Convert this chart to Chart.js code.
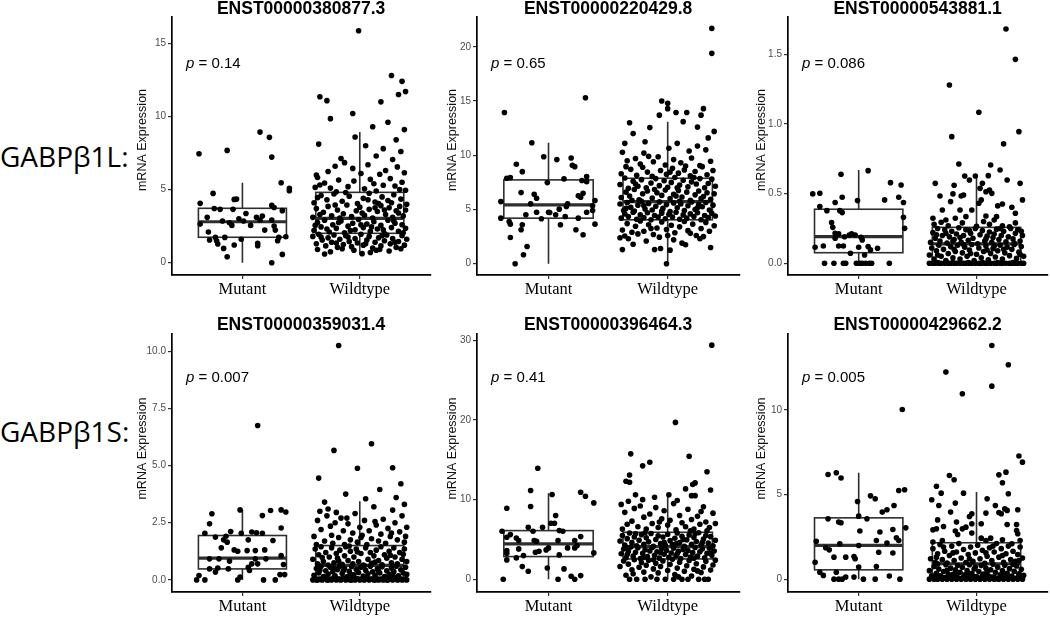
<!DOCTYPE html>
<html><head><meta charset="utf-8">
<script src="https://cdn.jsdelivr.net/npm/chart.js@4.4.1/dist/chart.umd.min.js"></script>
<style>
html,body{margin:0;padding:0;background:#fff}
body{width:1050px;height:617px;overflow:hidden;position:relative}
canvas{position:absolute}
.grp{position:absolute;left:0;font-family:"Open Sans",sans-serif;font-size:28px;line-height:28px;color:#000;white-space:nowrap}
</style></head>
<body>
<div class="grp" id="g0" style="top:142px"></div>
<div class="grp" id="g1" style="top:417px"></div>
<script>
// ---------- data ----------
const categories = ['Mutant', 'Wildtype'];
const rowLabels = ['GABPβ1L:', 'GABPβ1S:'];
const titles = ['ENST00000380877.3','ENST00000220429.8','ENST00000543881.1','ENST00000359031.4','ENST00000396464.3','ENST00000429662.2'];
const pValues = ['0.14','0.65','0.086','0.007','0.41','0.005'];
const yTitle = 'mRNA Expression';

const yTicks1 = [0,5,10,15];          const yLabels1 = ['0','5','10','15'];
const yTicks2 = [0,5,10,15,20];       const yLabels2 = ['0','5','10','15','20'];
const yTicks3 = [0,0.5,1,1.5];        const yLabels3 = ['0.0','0.5','1.0','1.5'];
const yTicks4 = [0,2.5,5,7.5,10];     const yLabels4 = ['0.0','2.5','5.0','7.5','10.0'];
const yTicks5 = [0,10,20,30];         const yLabels5 = ['0','10','20','30'];
const yTicks6 = [0,5,10];             const yLabels6 = ['0','5','10'];

const yRange1 = [-0.84, 16.8];
const yRange2 = [-1.04, 22.75];
const yRange3 = [-0.084, 1.768];
const yRange4 = [-0.53, 10.75];
const yRange5 = [-1.6, 30.8];
const yRange6 = [-0.76, 14.48];

// box stats: [lower whisker, Q1, median, Q3, upper whisker]
const box1Mut = [0, 1.74, 2.80, 3.72, 5.47];   const box1Wt = [0.55, 2.01, 3.03, 4.81, 8.93];
const box2Mut = [0, 4.2, 5.43, 7.73, 11.16];   const box2Wt = [0, 4.05, 5.73, 7.88, 13.1];
const box3Mut = [0, 0.076, 0.191, 0.388, 0.67];const box3Wt = [0, 0.005, 0.139, 0.258, 0.634];
const box4Mut = [0, 0.48, 0.95, 1.94, 3.08];   const box4Wt = [0, 0.12, 0.63, 1.5, 3.44];
const box5Mut = [0, 2.85, 4.44, 6.11, 10.8];   const box5Wt = [0, 2.55, 4.1, 5.9, 10.8];
const box6Mut = [0, 0.55, 1.99, 3.62, 6.28];   const box6Wt = [0, 0.12, 0.91, 2.15, 5.14];

// jittered points: [offset from category, value]
const pts1Mut = [[-0.37,7.45],[-0.13,7.68],[0.15,8.93],[0.23,8.57],[0.25,7.22],[0.33,5.47],[0.4,5.08],[0.4,4.92],[-0.25,4.74],[-0.36,4.06],[-0.07,4.33],[-0.05,4.35],[-0.24,3.71],[-0.19,3.65],[-0.08,3.65],[0.03,3.37],[0.12,3.1],[0.17,3.19],[0.25,3.92],[0.27,3.78],[0.34,3.56],[-0.3,3.1],[-0.36,2.64],[-0.17,2.85],[-0.11,2.73],[-0.09,2.55],[-0.03,3.01],[0.01,2.85],[0.07,2.55],[0.15,2.92],[0.25,2.92],[0.27,2.51],[0.28,2.23],[0.19,2.23],[-0.29,2.1],[-0.23,1.73],[-0.28,1.55],[-0.22,1.5],[-0.15,1.73],[-0.01,1.6],[0.13,1.32],[0.13,1.16],[0.31,1.73],[0.37,1.78],[0.3,1.5],[-0.21,1.28],[-0.16,0.98],[-0.07,1.21],[-0.13,0.41],[0.25,0],[0.34,0.57]];
const pts1Wt = [[-0.01,15.86],[0.27,12.8],[0.36,12.4],[0.39,11.7],[0.33,11.5],[-0.34,11.35],[-0.28,11.08],[0.18,11.0],[-0.06,10.2],[-0.25,9.85],[0.24,9.6],[0.11,9.3],[0.38,9.1],[-0.04,8.6],[0.31,8.4],[-0.35,8.11],[0.05,8.0],[0.2,7.8],[0.35,7.6],[-0.16,7.13],[0.14,7.3],[0.28,7.05],
[-0.13,6.84],[-0.21,6.6],[0.07,6.7],[0.32,6.55],[-0.06,6.45],[0.22,6.3],[-0.27,6.24],[0.38,6.15],[0.01,6.1],[-0.37,6.0],[0.17,6.05],
[-0.36,5.83],[-0.18,5.65],[-0.05,5.58],[0.09,5.7],[0.26,5.75],[0.36,5.5],[-0.34,5.31],[0.12,5.4],[-0.1,5.2],[0.3,5.25],[-0.25,5.1],[0.04,5.05],[0.2,5.3],[-0.38,5.15],[0.34,5.0],[-0.3,5.45],[0.14,4.9],[-0.2,4.85],[0.39,4.95],
[-0.39,4.1],[-0.33,4.6],[-0.28,4.3],[-0.22,4.7],[-0.15,4.2],[-0.09,4.55],[-0.02,4.05],[0.03,4.4],[0.08,4.75],[0.13,4.15],[0.19,4.5],[0.24,4.25],[0.29,4.65],[0.35,4.35],[0.4,4.0],[-0.12,4.8],[0.16,4.05],[-0.36,4.45],[0.27,4.1],[0.07,4.3],
[-0.4,3.1],[-0.37,3.7],[-0.31,3.45],[-0.27,3.85],[-0.24,3.2],[-0.19,3.6],[-0.14,3.35],[-0.11,3.95],[-0.07,3.15],[-0.03,3.55],[0.0,3.8],[0.04,3.25],[0.08,3.65],[0.11,3.05],[0.15,3.5],[0.18,3.9],[0.22,3.3],[0.25,3.75],[0.28,3.1],[0.31,3.55],[0.34,3.85],[0.37,3.2],[0.39,3.6],[-0.34,3.3],[-0.21,3.95],[-0.17,3.05],[0.02,3.4],[0.13,3.75],[0.21,3.6],[0.33,3.4],
[-0.39,2.2],[-0.36,2.75],[-0.33,2.45],[-0.3,2.9],[-0.26,2.1],[-0.23,2.6],[-0.2,2.35],[-0.16,2.85],[-0.13,2.05],[-0.1,2.5],[-0.06,2.7],[-0.04,2.25],[-0.01,2.95],[0.03,2.4],[0.06,2.65],[0.09,2.15],[0.12,2.8],[0.15,2.3],[0.18,2.55],[0.21,2.0],[0.24,2.9],[0.27,2.4],[0.3,2.7],[0.33,2.15],[0.36,2.6],[0.39,2.35],[-0.38,2.55],[-0.28,2.3],[-0.18,2.75],[-0.08,2.2],[0.01,2.6],[0.1,2.45],[0.2,2.25],[0.29,2.85],[0.37,2.05],
[-0.4,1.8],[-0.37,1.3],[-0.35,1.95],[-0.32,1.55],[-0.29,1.15],[-0.27,1.7],[-0.24,1.4],[-0.22,1.9],[-0.19,1.05],[-0.17,1.6],[-0.14,1.25],[-0.12,1.85],[-0.09,1.45],[-0.07,1.1],[-0.04,1.65],[-0.02,1.35],[0.01,1.95],[0.03,1.2],[0.06,1.55],[0.08,1.8],[0.11,1.0],[0.13,1.4],[0.16,1.7],[0.18,1.15],[0.21,1.5],[0.23,1.9],[0.26,1.3],[0.28,1.65],[0.31,1.05],[0.33,1.45],[0.36,1.85],[0.38,1.2],[0.4,1.6],[-0.33,1.75],[-0.2,1.35],[-0.1,1.75],[0.05,1.3],[0.19,1.85],[0.3,1.4],
[-0.36,0.9],[-0.25,0.75],[-0.15,0.95],[-0.05,0.85],[0.09,0.7],[0.17,0.9],[0.25,0.8],[0.35,0.95],[-0.3,0.6],[0.02,0.62],[0.14,0.85]];

const pts2Mut = [[-0.37,13.95],[0.31,15.3],[-0.14,11.16],[-0.04,9.87],[0.07,9.6],[0.19,9.75],[0.2,9.08],[0.22,8.95],[-0.27,9.17],[-0.22,8.49],[-0.35,7.88],[-0.32,7.94],[-0.01,7.48],[0.13,7.82],[0.28,7.67],[0.32,8.03],[0.32,7.57],[-0.23,6.56],[-0.12,6.41],[-0.1,6.04],[0.29,6.5],[0.27,6.13],[0.25,6.26],[-0.15,5.52],[-0.4,5.73],[0.39,5.83],[0.37,5.34],[0.37,4.91],[0.15,5.27],[0.09,5.03],[0.16,5.52],[0.0,4.75],[-0.1,4.75],[-0.19,4.51],[-0.06,4.14],[0.01,4.72],[0.06,4.51],[0.14,4.35],[0.25,4.2],[0.32,4.75],[-0.4,4.2],[-0.33,3.89],[-0.32,3.65],[-0.22,3.59],[-0.23,3.13],[0.1,3.59],[0.23,3.13],[0.39,3.65],[0.29,2.67],[-0.32,2.42],[-0.18,1.59],[-0.21,0.83],[-0.28,0.0]];
const pts2Wt = [[0.37,21.7],[0.37,19.4],[-0.05,15.0],[0,14.8],[0,14.3],[-0.07,13.7],[0.07,13.95],[0.16,13.95],[0.13,13.1],[0.28,13.7],[-0.32,13.0],[-0.15,12.55],[0.25,12.6],[-0.29,12.0],[-0.19,11.25],[-0.36,11.1],[0.01,10.65],[0.08,11.1],[0.18,10.4],[0.25,10.85],[0.32,10.5],[-0.38,10.27],[-0.2,10.2],[-0.08,9.87],[0.34,11.6],[0.39,12.2],[0.3,14.3],
[-0.34,9.5],[-0.27,9.7],[-0.23,9.2],[-0.12,9.4],[-0.02,9.1],[0.05,9.6],[0.11,9.3],[0.2,9.75],[0.27,9.05],[0.36,9.45],[-0.16,9.9],[0.15,9.0],
[-0.39,8.3],[-0.31,8.7],[-0.26,8.15],[-0.21,8.9],[-0.17,8.45],[-0.13,8.05],[-0.06,8.6],[-0.01,8.25],[0.04,8.8],[0.09,8.35],[0.14,8.65],[0.19,8.1],[0.23,8.5],[0.29,8.95],[0.33,8.2],[0.38,8.6],[-0.35,8.95],[0.02,8.45],
[-0.4,7.3],[-0.36,7.9],[-0.33,6.95],[-0.29,7.6],[-0.25,7.15],[-0.22,7.75],[-0.18,7.0],[-0.14,7.45],[-0.1,7.85],[-0.07,7.2],[-0.03,7.65],[0.0,7.05],[0.03,7.5],[0.06,7.95],[0.1,7.25],[0.13,7.7],[0.17,7.1],[0.2,7.55],[0.24,7.35],[0.27,7.85],[0.31,7.0],[0.34,7.4],[0.37,7.8],[0.4,7.15],[-0.27,7.35],[0.08,7.0],[0.22,7.95],
[-0.39,6.1],[-0.35,6.6],[-0.32,6.25],[-0.28,6.85],[-0.24,5.9],[-0.21,6.45],[-0.17,6.7],[-0.13,6.05],[-0.09,6.55],[-0.05,6.3],[-0.02,6.8],[0.02,6.0],[0.05,6.4],[0.09,6.75],[0.12,6.15],[0.16,6.6],[0.19,5.85],[0.23,6.35],[0.26,6.7],[0.3,6.2],[0.33,6.55],[0.36,5.95],[0.39,6.45],[-0.3,5.85],[-0.11,6.85],[0.07,6.25],[0.28,6.0],
[-0.4,5.5],[-0.37,4.9],[-0.34,5.65],[-0.31,5.2],[-0.28,4.85],[-0.25,5.4],[-0.22,5.75],[-0.19,5.05],[-0.16,5.55],[-0.13,4.95],[-0.1,5.3],[-0.07,5.7],[-0.04,5.1],[-0.01,5.45],[0.02,4.8],[0.05,5.6],[0.08,5.15],[0.11,5.5],[0.14,4.9],[0.17,5.35],[0.2,5.7],[0.23,5.0],[0.26,5.45],[0.29,5.25],[0.32,5.65],[0.35,4.95],[0.38,5.4],[-0.35,5.1],[-0.2,5.35],[-0.05,4.85],[0.1,5.75],[0.25,5.15],
[-0.39,4.2],[-0.36,4.6],[-0.33,4.35],[-0.29,4.75],[-0.26,4.1],[-0.23,4.5],[-0.2,4.25],[-0.17,4.7],[-0.14,4.05],[-0.11,4.45],[-0.08,4.3],[-0.05,4.65],[-0.02,4.15],[0.01,4.55],[0.04,4.3],[0.07,4.75],[0.1,4.1],[0.13,4.5],[0.16,4.2],[0.19,4.6],[0.22,4.35],[0.25,4.7],[0.28,4.05],[0.31,4.45],[0.34,4.25],[0.37,4.65],[0.4,4.4],
[-0.38,3.1],[-0.34,3.7],[-0.3,2.9],[-0.27,3.45],[-0.23,3.95],[-0.2,3.0],[-0.16,3.6],[-0.12,2.7],[-0.09,3.3],[-0.05,3.85],[-0.01,3.15],[0.03,3.55],[0.06,2.85],[0.1,3.4],[0.14,3.9],[0.17,3.05],[0.21,3.65],[0.24,2.6],[0.28,3.25],[0.32,3.8],[0.35,3.0],[0.39,3.5],[-0.36,2.55],[-0.25,2.75],[-0.14,3.25],[0.0,2.6],[0.19,2.8],[0.3,2.5],[-0.4,2.4],[-0.07,2.45],
[-0.38,1.3],[-0.29,1.8],[-0.18,2.1],[-0.06,1.4],[0.05,2.2],[0.15,1.75],[-0.11,1.3],[0.02,1.25],[-0.01,0.0],[0.27,2.3],[0.36,1.5],[0.12,1.9],[-0.33,2.3]];

const pts3Mut = [[-0.15,0.639],[0.08,0.665],[-0.39,0.498],[-0.33,0.503],[0.27,0.579],[0.36,0.562],[0.22,0.455],[0.34,0.474],[0.38,0.436],[-0.01,0.45],[-0.14,0.474],[-0.2,0.436],[-0.33,0.407],[-0.27,0.378],[-0.16,0.378],[-0.14,0.364],[-0.23,0.292],[0.38,0.33],[0.39,0.251],[-0.22,0.258],[-0.2,0.215],[-0.17,0.211],[-0.2,0.18],[-0.12,0.191],[-0.08,0.203],[-0.06,0.211],[-0.03,0.203],[0.02,0.187],[0.03,0.168],[-0.3,0.124],[-0.37,0.115],[-0.17,0.124],[-0.13,0.124],[0.0,0.115],[0.08,0.12],[0.1,0.096],[0.16,0.108],[-0.07,0.072],[0.05,0.06],[-0.29,0],[-0.21,0],[-0.13,0],[-0.11,0],[-0.02,0],[0.01,0],[0.03,0],[0.06,0],[0.09,0],[0.11,0],[0.26,0]];
const pts3Wt = [[0.25,1.682],[0.33,1.464],[-0.23,1.28],[0.02,1.084],[0.36,0.945],[-0.21,0.909],[0.23,0.857],[-0.15,0.713],[0.12,0.706],[0.2,0.67],[-0.35,0.574],[-0.1,0.627],[-0.06,0.598],[-0.01,0.627],[0.05,0.574],[0.1,0.629],[0.26,0.598],[0.37,0.574],[-0.19,0.56],[-0.31,0.483],[-0.2,0.498],[-0.13,0.483],[-0.11,0.49],[0.03,0.538],[0.08,0.514],[0.11,0.526],[0.13,0.502],[0.04,0.455],[0.39,0.455],[-0.22,0.443],[-0.29,0.383],[-0.14,0.383],[-0.04,0.383],[0.02,0.431],[0.18,0.412],[0.22,0.426],[0.3,0.402],[0.33,0.359],[0.17,0.335],[-0.37,0.323],[-0.26,0.311],[-0.18,0.323],[-0.09,0.335],[0.08,0.34],[0.15,0.311],
[-0.36,0.28],[-0.24,0.27],[-0.12,0.29],[0.0,0.265],[0.11,0.28],[0.22,0.27],[0.33,0.29],[-0.3,0.295],[0.06,0.3],[0.28,0.262],
[-0.39,0.15],[-0.37,0.22],[-0.35,0.18],[-0.33,0.25],[-0.31,0.16],[-0.29,0.2],[-0.27,0.24],[-0.25,0.145],[-0.23,0.19],[-0.21,0.23],[-0.19,0.17],[-0.17,0.21],[-0.15,0.255],[-0.13,0.15],[-0.11,0.2],[-0.09,0.24],[-0.07,0.165],[-0.05,0.215],[-0.03,0.18],[-0.01,0.25],[0.01,0.14],[0.03,0.205],[0.05,0.235],[0.07,0.16],[0.09,0.195],[0.11,0.225],[0.13,0.15],[0.15,0.21],[0.17,0.245],[0.19,0.17],[0.21,0.2],[0.23,0.23],[0.25,0.155],[0.27,0.19],[0.29,0.25],[0.31,0.175],[0.33,0.215],[0.35,0.24],[0.37,0.16],[0.39,0.2],[-0.34,0.205],[-0.2,0.16],[-0.06,0.235],[0.08,0.175],[0.2,0.25],[0.32,0.145],[-0.26,0.215],[0.14,0.185],[0.38,0.23],[-0.14,0.185],
[-0.4,0.06],[-0.38,0.11],[-0.36,0.03],[-0.34,0.09],[-0.32,0.13],[-0.3,0.05],[-0.28,0.1],[-0.26,0.02],[-0.24,0.07],[-0.22,0.12],[-0.2,0.04],[-0.18,0.085],[-0.16,0.13],[-0.14,0.03],[-0.12,0.075],[-0.1,0.115],[-0.08,0.05],[-0.06,0.095],[-0.04,0.135],[-0.02,0.02],[0.0,0.065],[0.02,0.11],[0.04,0.04],[0.06,0.085],[0.08,0.125],[0.1,0.025],[0.12,0.07],[0.14,0.105],[0.16,0.045],[0.18,0.09],[0.2,0.13],[0.22,0.03],[0.24,0.075],[0.26,0.115],[0.28,0.055],[0.3,0.1],[0.32,0.135],[0.34,0.035],[0.36,0.08],[0.38,0.12],[0.4,0.05],[-0.33,0.06],[-0.19,0.1],[-0.05,0.07],[0.09,0.095],[0.23,0.1],[0.37,0.065],[-0.11,0.135],[0.15,0.125],
[-0.4,0],[-0.37,0],[-0.35,0],[-0.32,0],[-0.3,0],[-0.27,0],[-0.24,0],[-0.22,0],[-0.19,0],[-0.17,0],[-0.14,0],[-0.11,0],[-0.09,0],[-0.06,0],[-0.04,0],[-0.01,0],[0.02,0],[0.04,0],[0.07,0],[0.09,0],[0.12,0],[0.15,0],[0.17,0],[0.2,0],[0.22,0],[0.25,0],[0.28,0],[0.3,0],[0.33,0],[0.35,0],[0.38,0],[0.4,0],[-0.33,0.005],[-0.2,0.005],[-0.07,0.005],[0.05,0.005],[0.18,0.005],[0.31,0.005]];

const pts4Mut = [[0.13,6.75],[-0.02,3.06],[0.17,2.81],[0.24,3.03],[0.33,3.06],[0.37,2.97],[-0.26,2.89],[-0.28,2.45],[0.33,2.27],[-0.32,2.04],[-0.23,1.87],[-0.14,1.91],[-0.1,2.11],[-0.01,2.04],[0.05,1.75],[0.08,2.09],[0.12,2.06],[0.17,2.04],[0.26,1.72],[-0.16,1.75],[-0.13,1.65],[-0.18,1.4],[-0.07,1.31],[-0.04,1.25],[0.04,1.28],[0.11,1.28],[0.19,1.31],[0.11,0.92],[-0.2,0.92],[-0.28,0.92],[-0.11,0.82],[0.08,0.7],[0.13,0.7],[0.2,0.92],[0.33,1.06],[0.35,0.67],[-0.28,0.48],[-0.21,0.52],[-0.23,0.34],[-0.12,0.48],[0.05,0.55],[0.06,0.41],[0.32,0.23],[0.36,0.23],[-0.37,0.19],[-0.39,0],[-0.32,0],[-0.04,0],[-0.02,0.12],[0.18,0],[0.28,0]];
const pts4Wt = [[-0.18,10.25],[-0.22,5.66],[0.1,5.95],[0.28,4.9],[-0.02,4.88],[-0.35,4.45],[0.35,4.2],[0.17,3.95],[-0.3,3.4],[0.31,3.6],[-0.12,3.75],[0.05,3.55],[0.38,3.3],
[-0.39,1.9],[-0.36,2.6],[-0.34,3.0],[-0.33,2.2],[-0.3,1.7],[-0.28,2.8],[-0.27,3.1],[-0.25,2.35],[-0.23,1.6],[-0.21,2.5],[-0.2,2.95],[-0.18,1.85],[-0.16,2.7],[-0.14,2.15],[-0.13,1.55],[-0.1,2.45],[-0.08,1.75],[-0.06,2.05],[-0.04,2.9],[-0.02,1.65],[0.0,2.3],[0.02,1.95],[0.04,2.6],[0.06,1.55],[0.08,2.15],[0.1,1.8],[0.12,3.2],[0.14,2.4],[0.16,1.7],[0.18,2.0],[0.2,2.65],[0.22,1.6],[0.24,2.25],[0.26,1.9],[0.28,3.05],[0.3,2.5],[0.32,1.75],[0.34,2.1],[0.36,2.8],[0.38,1.65],[0.4,2.3],[-0.37,1.55],[-0.24,1.95],[-0.11,2.7],[0.01,1.85],[0.13,2.55],[0.27,2.05],[0.39,1.9],
[-0.4,0.9],[-0.38,1.35],[-0.36,0.7],[-0.35,1.1],[-0.33,1.45],[-0.31,0.8],[-0.29,1.2],[-0.27,0.65],[-0.26,1.0],[-0.24,1.4],[-0.22,0.75],[-0.2,1.15],[-0.19,0.95],[-0.17,1.3],[-0.15,0.68],[-0.13,1.05],[-0.12,1.45],[-0.1,0.85],[-0.08,1.25],[-0.06,0.7],[-0.05,1.0],[-0.03,1.35],[-0.01,0.8],[0.01,1.15],[0.03,0.65],[0.05,1.4],[0.07,0.9],[0.09,1.2],[0.1,0.72],[0.12,1.05],[0.14,1.3],[0.16,0.85],[0.18,1.45],[0.19,0.66],[0.21,1.1],[0.23,0.95],[0.25,1.25],[0.27,0.75],[0.29,1.4],[0.3,1.0],[0.32,0.7],[0.34,1.2],[0.36,0.9],[0.38,1.35],[0.4,0.8],[-0.32,0.98],[-0.18,0.82],[-0.02,1.22],[0.13,0.78],[0.26,1.08],[0.37,1.12],[-0.09,1.48],
[-0.39,0.2],[-0.37,0.5],[-0.35,0.3],[-0.33,0.6],[-0.31,0.15],[-0.29,0.4],[-0.27,0.25],[-0.25,0.55],[-0.23,0.35],[-0.21,0.18],[-0.19,0.45],[-0.17,0.6],[-0.15,0.28],[-0.13,0.5],[-0.11,0.14],[-0.09,0.38],[-0.07,0.58],[-0.05,0.22],[-0.03,0.45],[-0.01,0.32],[0.01,0.55],[0.03,0.17],[0.05,0.42],[0.07,0.27],[0.09,0.6],[0.11,0.35],[0.13,0.2],[0.15,0.48],[0.17,0.3],[0.19,0.57],[0.21,0.15],[0.23,0.4],[0.25,0.25],[0.27,0.52],[0.29,0.36],[0.31,0.6],[0.33,0.18],[0.35,0.44],[0.37,0.3],[0.39,0.55],[-0.34,0.42],[-0.22,0.52],[-0.08,0.26],[0.04,0.62],[0.16,0.38],[0.28,0.16],[0.4,0.24],[-0.14,0.4],
[-0.4,0],[-0.38,0.05],[-0.36,0],[-0.34,0.02],[-0.32,0],[-0.3,0.08],[-0.28,0],[-0.26,0.03],[-0.24,0],[-0.22,0.1],[-0.2,0],[-0.18,0.04],[-0.16,0],[-0.14,0.07],[-0.12,0],[-0.1,0.02],[-0.08,0],[-0.06,0.09],[-0.04,0],[-0.02,0.05],[0,0],[0.02,0.03],[0.04,0],[0.06,0.1],[0.08,0],[0.1,0.04],[0.12,0],[0.14,0.06],[0.16,0],[0.18,0.02],[0.2,0],[0.22,0.08],[0.24,0],[0.26,0.03],[0.28,0],[0.3,0.11],[0.32,0],[0.34,0.05],[0.36,0],[0.38,0.02],[0.4,0],[-0.37,0],[-0.27,0],[-0.17,0.01],[-0.07,0],[0.03,0.01],[0.13,0],[0.23,0],[0.33,0.01]];

const pts5Mut = [[-0.09,13.94],[-0.15,11.14],[-0.35,8.92],[0.03,10.64],[0.27,10.93],[0.31,10.43],[0.38,9.59],[-0.15,9.13],[0.06,8.0],[0.05,7.04],[0.02,7.04],[-0.17,6.53],[-0.05,6.53],[-0.39,6.03],[-0.13,6.03],[0.12,6.03],[0.09,6.11],[-0.32,5.61],[-0.35,5.28],[-0.27,5.19],[-0.25,4.86],[-0.12,4.86],[-0.1,4.77],[0.08,4.86],[0.22,4.86],[0.27,5.36],[0.22,3.94],[0.24,4.23],[0.16,3.94],[0.0,3.94],[-0.02,3.69],[-0.08,3.52],[-0.11,3.39],[-0.25,3.81],[-0.35,3.6],[-0.35,3.27],[-0.21,2.97],[-0.27,2.68],[-0.35,2.43],[0.09,3.06],[0.38,3.31],[-0.22,1.59],[-0.17,1.0],[-0.01,1.42],[0.13,1.3],[0.19,0.38],[0.22,0],[0.27,0.46],[0.08,0],[-0.38,0]];
const pts5Wt = [[0.37,29.4],[0.065,19.7],[-0.31,15.75],[0.18,15.45],[-0.15,14.7],[-0.21,14.24],[-0.32,13.1],[-0.35,12.3],[-0.32,12.19],[0.23,12.1],[0.21,11.9],[0.15,11.35],[0.2,10.5],[0.23,10.5],[-0.27,10.6],[-0.11,10.3],[0.01,10.6],[0.33,13.5],[0.36,11.2],
[-0.39,9.4],[-0.36,8.4],[-0.33,9.8],[-0.3,7.3],[-0.28,8.9],[-0.25,6.6],[-0.23,9.2],[-0.2,7.8],[-0.18,6.3],[-0.15,8.2],[-0.13,7.0],[-0.1,9.0],[-0.08,6.5],[-0.05,7.6],[-0.03,8.6],[0.0,6.8],[0.02,7.4],[0.05,9.5],[0.07,6.2],[0.1,8.0],[0.12,7.1],[0.15,6.6],[0.17,8.8],[0.2,7.5],[0.22,6.3],[0.25,7.9],[0.27,6.9],[0.3,9.1],[0.32,7.2],[0.35,6.5],[0.38,8.3],[0.4,7.0],[-0.34,6.9],[-0.21,10.0],[-0.07,7.2],[0.08,9.9],[0.19,6.1],[0.33,6.1],[-0.38,6.3],[0.28,8.5],
[-0.4,4.8],[-0.38,5.5],[-0.36,4.3],[-0.34,5.1],[-0.32,5.8],[-0.3,4.6],[-0.28,5.3],[-0.26,4.2],[-0.24,4.9],[-0.22,5.6],[-0.2,4.4],[-0.18,5.2],[-0.16,4.7],[-0.14,5.75],[-0.12,4.15],[-0.1,5.0],[-0.08,5.45],[-0.06,4.5],[-0.04,5.3],[-0.02,4.25],[0.0,5.65],[0.02,4.85],[0.04,4.35],[0.06,5.15],[0.08,5.8],[0.1,4.6],[0.12,5.4],[0.14,4.15],[0.16,4.95],[0.18,5.55],[0.2,4.4],[0.22,5.25],[0.24,4.75],[0.26,5.85],[0.28,4.3],[0.3,5.05],[0.32,5.5],[0.34,4.55],[0.36,5.35],[0.38,4.2],[0.4,4.9],[-0.35,4.0],[-0.19,5.85],[-0.03,4.65],[0.13,5.0],[0.29,4.6],[-0.27,5.7],[0.07,4.45],[0.23,5.7],
[-0.39,3.2],[-0.37,3.8],[-0.35,2.7],[-0.33,3.5],[-0.31,4.05],[-0.29,2.9],[-0.27,3.4],[-0.25,3.95],[-0.23,2.6],[-0.21,3.25],[-0.19,3.7],[-0.17,2.85],[-0.15,3.55],[-0.13,4.0],[-0.11,3.0],[-0.09,3.45],[-0.07,2.65],[-0.05,3.85],[-0.03,3.15],[-0.01,3.6],[0.01,2.75],[0.03,3.3],[0.05,3.9],[0.07,2.95],[0.09,3.5],[0.11,2.6],[0.13,3.75],[0.15,3.1],[0.17,3.6],[0.19,2.8],[0.21,3.35],[0.23,4.0],[0.25,2.9],[0.27,3.45],[0.29,3.8],[0.31,2.7],[0.33,3.25],[0.35,3.9],[0.37,3.0],[0.39,3.55],[-0.34,3.1],[-0.2,2.75],[-0.06,3.35],[0.08,3.2],[0.22,2.65],[0.36,3.3],
[-0.4,1.6],[-0.37,2.3],[-0.35,0.5],[-0.33,1.9],[-0.3,1.2],[-0.28,2.45],[-0.26,0.0],[-0.24,1.5],[-0.22,2.1],[-0.2,0.9],[-0.18,1.75],[-0.16,2.4],[-0.14,0.3],[-0.12,1.3],[-0.1,2.0],[-0.08,0.8],[-0.06,1.6],[-0.04,2.3],[-0.02,0.0],[0.0,1.1],[0.02,1.85],[0.04,2.5],[0.06,0.6],[0.08,1.4],[0.1,2.15],[0.12,0.0],[0.14,1.0],[0.16,1.7],[0.18,2.35],[0.2,0.4],[0.22,1.25],[0.24,1.95],[0.26,0.0],[0.28,0.85],[0.3,1.55],[0.32,2.25],[0.34,0.0],[0.36,1.15],[0.38,1.8],[0.4,2.4],[-0.32,0.0],[-0.19,0.0],[-0.09,0.0],[0.05,0.0],[0.17,0.0],[0.31,0.0],[-0.29,0.7],[0.09,0.3],[0.25,1.05],[-0.12,2.45]];

const pts6Mut = [[0.37,10.02],[-0.26,6.18],[-0.19,6.28],[-0.15,5.97],[0.1,4.92],[0.14,4.75],[-0.01,4.59],[0.34,5.24],[0.39,5.28],[0.3,4.35],[0.24,4.1],[0.2,3.96],[-0.26,3.56],[-0.17,3.37],[-0.15,3.33],[0.0,3.72],[0.07,3.56],[0.4,3.03],[0.29,2.93],[0.18,2.78],[0.01,2.84],[0.15,2.28],[0.24,2.13],[0.32,2.44],[0.34,2.28],[-0.36,2.24],[-0.28,1.85],[-0.25,1.73],[-0.16,2.09],[0.0,1.99],[-0.21,1.3],[-0.11,1.3],[-0.04,1.34],[-0.03,1.2],[0.17,1.59],[0.29,1.54],[-0.37,1.0],[0.0,0.71],[0.15,0.75],[-0.33,0.41],[-0.3,0.22],[-0.19,0.41],[-0.21,0],[-0.17,0],[-0.14,0],[-0.11,0.12],[-0.04,0.12],[0.04,0],[0.14,0],[0.26,0.18],[0.35,0]];
const pts6Wt = [[0.13,13.8],[0.27,12.66],[-0.26,12.23],[0.13,11.4],[-0.12,10.95],[0.36,7.27],[0.39,6.91],[-0.23,6.12],[-0.19,5.87],[0.19,6.16],[0.25,6.32],[0.22,5.69],[-0.34,5.49],[-0.3,5.08],[-0.11,5.08],[0.27,5.04],[-0.38,4.69],[-0.18,4.49],[0.09,4.75],[-0.32,4.35],[-0.22,3.96],[-0.04,3.86],[0.08,3.9],[0.16,4.35],[0.19,3.94],[0.21,3.86],[0.24,4.15],[0.26,4.06],[0.35,4.1],[-0.33,3.5],[-0.17,3.37],[-0.06,3.7],[-0.37,2.91],[-0.34,2.97],[-0.28,3.11],[-0.12,2.97],[-0.09,3.07],[-0.04,3.27],[0.04,3.27],[0.26,3.23],[0.34,3.23],[0.34,2.87],[0.35,2.68],[-0.18,2.84],[-0.16,2.64],[-0.04,2.72],[0.04,2.42],[0.08,2.28],[0.12,2.42],[0.22,2.32],[0.3,2.09],[0.37,2.28],[-0.37,2.19],[-0.29,2.28],
[-0.39,1.2],[-0.37,1.8],[-0.35,1.0],[-0.33,1.5],[-0.31,2.05],[-0.29,1.15],[-0.27,1.65],[-0.25,0.95],[-0.23,1.4],[-0.21,1.95],[-0.19,1.1],[-0.17,1.6],[-0.15,2.1],[-0.13,1.25],[-0.11,1.75],[-0.09,0.98],[-0.07,1.45],[-0.05,1.9],[-0.03,1.05],[-0.01,1.55],[0.01,2.0],[0.03,1.2],[0.05,1.7],[0.07,0.93],[0.09,1.35],[0.11,1.85],[0.13,1.1],[0.15,1.6],[0.17,2.1],[0.19,1.3],[0.21,1.8],[0.23,1.0],[0.25,1.5],[0.27,1.95],[0.29,1.15],[0.31,1.65],[0.33,1.05],[0.35,1.45],[0.37,1.9],[0.39,1.25],[-0.34,1.3],[-0.2,1.55],[-0.06,1.2],[0.08,1.55],[0.22,1.4],[0.36,1.1],[-0.28,1.9],[0.14,1.95],
[-0.4,0.5],[-0.38,0.2],[-0.36,0.75],[-0.34,0.35],[-0.32,0.6],[-0.3,0.15],[-0.28,0.45],[-0.26,0.85],[-0.24,0.3],[-0.22,0.65],[-0.2,0.2],[-0.18,0.55],[-0.16,0.8],[-0.14,0.4],[-0.12,0.7],[-0.1,0.25],[-0.08,0.5],[-0.06,0.85],[-0.04,0.35],[-0.02,0.6],[0.0,0.15],[0.02,0.45],[0.04,0.8],[0.06,0.3],[0.08,0.65],[0.1,0.2],[0.12,0.55],[0.14,0.88],[0.16,0.4],[0.18,0.7],[0.2,0.25],[0.22,0.5],[0.24,0.82],[0.26,0.35],[0.28,0.62],[0.3,0.18],[0.32,0.47],[0.34,0.78],[0.36,0.32],[0.38,0.58],[0.4,0.22],[-0.33,0.9],[-0.17,0.28],[-0.01,0.72],[0.15,0.12],[0.31,0.86],[-0.25,0.52],[0.09,0.42],
[-0.4,0],[-0.38,0.15],[-0.36,0],[-0.35,0.08],[-0.33,0],[-0.31,0.2],[-0.29,0],[-0.27,0.1],[-0.25,0],[-0.23,0.05],[-0.21,0],[-0.19,0.18],[-0.17,0],[-0.15,0.07],[-0.13,0],[-0.11,0.12],[-0.09,0],[-0.07,0.04],[-0.05,0],[-0.03,0.16],[-0.01,0],[0.01,0.09],[0.03,0],[0.05,0.2],[0.07,0],[0.09,0.06],[0.11,0],[0.13,0.13],[0.15,0],[0.17,0.03],[0.19,0],[0.21,0.17],[0.23,0],[0.25,0.08],[0.27,0],[0.29,0.11],[0.31,0],[0.33,0.05],[0.35,0],[0.37,0.14],[0.39,0],[-0.34,0.3],[-0.2,0.28],[-0.06,0.3],[0.08,0.26],[0.22,0.3],[0.36,0.25]];

// ---------- panel setup ----------
const panelData = [
  {mut:pts1Mut, wt:pts1Wt, bm:box1Mut, bw:box1Wt, yt:yTicks1, yl:yLabels1, yr:yRange1},
  {mut:pts2Mut, wt:pts2Wt, bm:box2Mut, bw:box2Wt, yt:yTicks2, yl:yLabels2, yr:yRange2},
  {mut:pts3Mut, wt:pts3Wt, bm:box3Mut, bw:box3Wt, yt:yTicks3, yl:yLabels3, yr:yRange3},
  {mut:pts4Mut, wt:pts4Wt, bm:box4Mut, bw:box4Wt, yt:yTicks4, yl:yLabels4, yr:yRange4},
  {mut:pts5Mut, wt:pts5Wt, bm:box5Mut, bw:box5Wt, yt:yTicks5, yl:yLabels5, yr:yRange5},
  {mut:pts6Mut, wt:pts6Wt, bm:box6Mut, bw:box6Wt, yt:yTicks6, yl:yLabels6, yr:yRange6}
];
const colLeft = [112, 417, 728];   // canvas left (axis at +60)
const colW = [259, 263, 260];      // plot width
const colYTitleDx = [-29.7, -24.3, -26];
const rowTop = [0, 317];
const rowTitleY = [14, 13];
const rowPY = [68, 65];
const rowYTitleY = [140, 131.5];

const boxPlugin = {
  id: 'boxes',
  beforeDatasetsDraw(chart) {
    const {ctx} = chart; const x = chart.scales.x, y = chart.scales.y;
    const stats = chart.options.plugins.boxes.stats;
    stats.forEach((s, i) => {
      const c = i + 1;
      const xl = x.getPixelForValue(c - 0.375), xr = x.getPixelForValue(c + 0.375), xc = x.getPixelForValue(c);
      const [lo, q1, med, q3, hi] = s;
      const yt = y.getPixelForValue(q3), yb = y.getPixelForValue(q1), ym = y.getPixelForValue(med);
      ctx.save();
      ctx.strokeStyle = '#2e2e2e'; ctx.lineWidth = 1.6;
      ctx.beginPath();
      ctx.moveTo(xc, yt); ctx.lineTo(xc, y.getPixelForValue(hi));
      ctx.moveTo(xc, yb); ctx.lineTo(xc, y.getPixelForValue(lo));
      ctx.stroke();
      ctx.fillStyle = '#ffffff';
      ctx.fillRect(xl, yt, xr - xl, yb - yt);
      ctx.strokeRect(xl, yt, xr - xl, yb - yt);
      ctx.lineWidth = 3.2;
      ctx.beginPath(); ctx.moveTo(xl, ym); ctx.lineTo(xr, ym); ctx.stroke();
      ctx.restore();
    });
  },
  afterDraw(chart) {
    const o = chart.options.plugins.panelText; const {ctx, chartArea:a} = chart;
    ctx.save();
    ctx.fillStyle = '#000';
    ctx.textBaseline = 'alphabetic';
    ctx.textAlign = 'center';
    ctx.font = 'bold 17.5px "Liberation Sans", Arial, sans-serif';
    ctx.fillText(o.title, (a.left + a.right) / 2, o.titleY);
    ctx.textAlign = 'left';
    ctx.font = 'italic 15px "Liberation Sans", Arial, sans-serif';
    const px = a.left + 14;
    ctx.fillText('p', px, o.pY);
    const w = ctx.measureText('p').width;
    ctx.font = '15px "Liberation Sans", Arial, sans-serif';
    ctx.fillText(' = ' + o.p, px + w, o.pY);
    ctx.translate(a.left + o.yDx, o.yY);
    ctx.rotate(-Math.PI / 2);
    ctx.textAlign = 'center'; ctx.textBaseline = 'middle';
    ctx.font = '12.5px "Liberation Sans", Arial, sans-serif';
    ctx.fillStyle = '#111';
    ctx.fillText(yTitle, 0, 0);
    ctx.restore();
  }
};

document.getElementById('g0').textContent = rowLabels[0];
document.getElementById('g1').textContent = rowLabels[1];

panelData.forEach((d, i) => {
  const col = i % 3, row = Math.floor(i / 3);
  const cv = document.createElement('canvas');
  const W = 60 + colW[col] + 2, H = 303;
  cv.width = W; cv.height = H;
  cv.style.left = colLeft[col] + 'px'; cv.style.top = rowTop[row] + 'px';
  cv.style.width = W + 'px'; cv.style.height = H + 'px';
  document.body.appendChild(cv);
  const ptStyle = {pointRadius: 2.8, pointHoverRadius: 2.8, pointBackgroundColor: '#000', pointBorderWidth: 0, borderColor: '#000', backgroundColor: '#000'};
  new Chart(cv, {
    type: 'scatter',
    data: {datasets: [
      Object.assign({label: categories[0], data: d.mut.map(([o, v]) => ({x: 1 + o, y: v}))}, ptStyle),
      Object.assign({label: categories[1], data: d.wt.map(([o, v]) => ({x: 2 + o, y: v}))}, ptStyle)
    ]},
    options: {
      responsive: false, animation: false, devicePixelRatio: 1,
      layout: {padding: {top: 17, left: 0, right: 2, bottom: 0}},
      plugins: {
        legend: {display: false}, tooltip: {enabled: false},
        boxes: {stats: [d.bm, d.bw]},
        panelText: {title: titles[i], p: pValues[i], titleY: rowTitleY[row], pY: rowPY[row], yDx: colYTitleDx[col], yY: rowYTitleY[row]}
      },
      scales: {
        x: {
          type: 'linear', min: 0.4, max: 2.6,
          afterBuildTicks: s => { s.ticks = [{value: 1}, {value: 2}]; },
          afterFit: s => { s.height = 28; },
          ticks: {callback: v => categories[Math.round(v) - 1], font: {family: '"Liberation Serif", "Times New Roman", serif', size: 16.5}, color: '#000', padding: 1, maxRotation: 0, autoSkip: false},
          grid: {drawOnChartArea: false, tickLength: 4, color: '#333', lineWidth: 1.2},
          border: {display: true, color: '#000', width: 1.7}
        },
        y: {
          type: 'linear', min: d.yr[0], max: d.yr[1],
          afterBuildTicks: s => { s.ticks = d.yt.map(v => ({value: v})); },
          afterFit: s => { s.width = 60; },
          ticks: {callback: (v, k) => d.yl[k], font: {family: '"Liberation Sans", Arial, sans-serif', size: 10}, color: '#4d4d4d', padding: 2, autoSkip: false},
          grid: {drawOnChartArea: false, tickLength: 4, color: '#333', lineWidth: 1.2},
          border: {display: true, color: '#000', width: 1.7}
        }
      }
    },
    plugins: [boxPlugin]
  });
});
</script>
</body></html>
